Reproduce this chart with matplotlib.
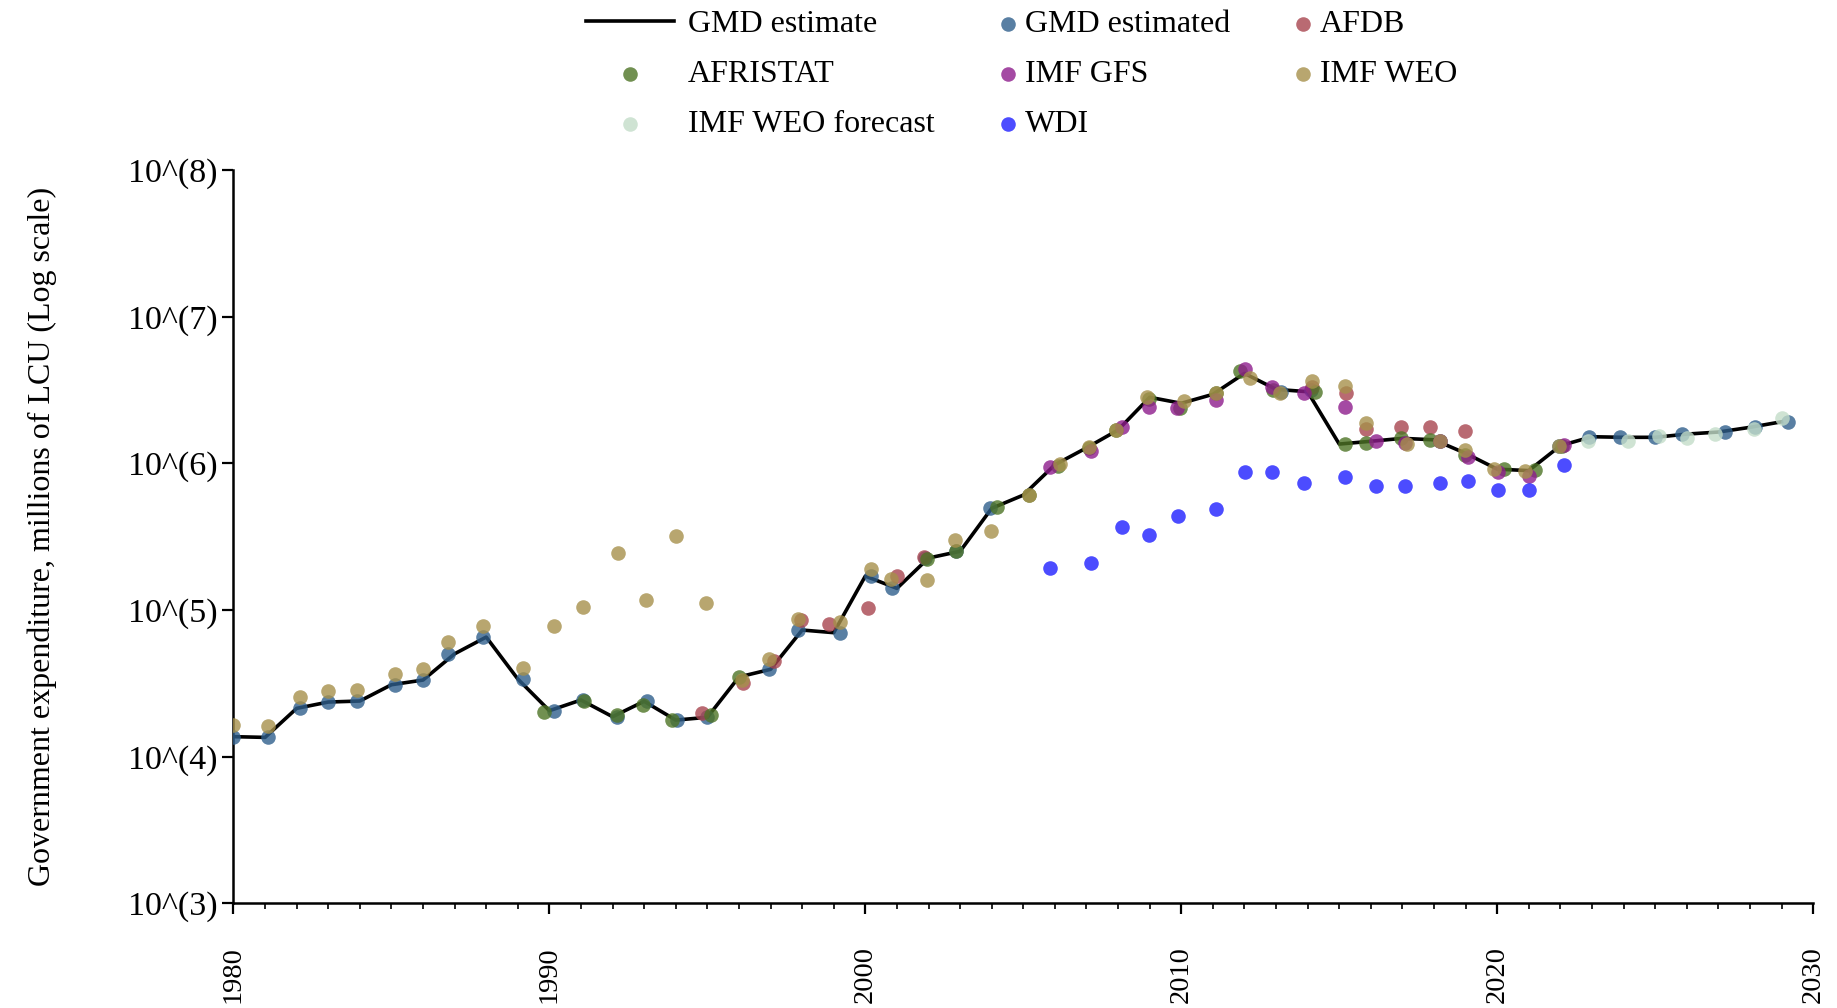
import numpy as np
import matplotlib
matplotlib.use("Agg")
import matplotlib.pyplot as plt
from matplotlib.ticker import FixedLocator, FixedFormatter

plt.rcParams['font.family'] = ['Liberation Serif', 'DejaVu Serif']

# ==========================================================
# DATA  (values are log10 of millions of LCU)
# ==========================================================

gmd_years = list(range(1980, 2030))
gmd_log = [
    4.136, 4.131, 4.329, 4.372, 4.379, 4.490, 4.522, 4.701, 4.815, 4.529,
    4.313, 4.386, 4.272, 4.377, 4.249, 4.268, 4.543, 4.595, 4.863, 4.845,
    5.231, 5.147, 5.354, 5.400, 5.693, 5.783, 5.990, 6.105, 6.227, 6.450,
    6.409, 6.470, 6.613, 6.504, 6.488, 6.131, 6.150, 6.170, 6.160, 6.068,
    5.960, 5.950, 6.120, 6.181, 6.177, 6.177, 6.199, 6.213, 6.245, 6.283,
]

gmd_est_x = [1980.0, 1981.1, 1982.1, 1983.0, 1983.9, 1985.1, 1986.0, 1986.8, 1987.9, 1989.15,
             1990.16, 1991.07, 1992.15, 1993.08, 1994.03, 1994.98, 1996.96, 1997.88, 1999.2,
             2000.19, 2000.83, 2001.89, 2002.87, 2003.95, 2013.16, 2014.1, 2018.2, 2021.97,
             2022.9, 2023.88, 2025.01, 2025.85, 2027.2, 2028.17, 2029.21]
gmd_est_log = [4.136, 4.131, 4.329, 4.372, 4.379, 4.490, 4.522, 4.701, 4.815, 4.529,
               4.313, 4.386, 4.272, 4.377, 4.249, 4.268, 4.595, 4.863, 4.845,
               5.231, 5.147, 5.354, 5.400, 5.693, 6.488, 6.500, 6.150, 6.118,
               6.181, 6.177, 6.177, 6.199, 6.213, 6.245, 6.283]

afdb_x = [1994.82, 1996.13, 1997.12, 1997.95, 1998.86, 2000.09, 2001.0, 2001.86,
          2014.13, 2015.2, 2015.85, 2016.96, 2017.86, 2018.99]
afdb_log = [4.299, 4.504, 4.654, 4.931, 4.904, 5.013, 5.231, 5.363,
            6.522, 6.481, 6.231, 6.245, 6.249, 6.222]

afristat_x = [1989.83, 1991.1, 1992.13, 1992.97, 1993.88, 1995.1, 1996.0, 2001.95, 2002.87,
              2004.16, 2005.18, 2006.1, 2007.09, 2007.93, 2008.99, 2009.96, 2011.1, 2011.86,
              2012.9, 2014.24, 2015.19, 2015.85, 2016.96, 2017.86, 2018.99, 2020.21, 2021.19,
              2022.05]
afristat_log = [4.304, 4.381, 4.284, 4.354, 4.249, 4.281, 4.543, 5.350, 5.400,
                5.704, 5.783, 5.983, 6.102, 6.227, 6.440, 6.374, 6.477, 6.626,
                6.499, 6.488, 6.131, 6.140, 6.170, 6.158, 6.056, 5.959, 5.954,
                6.120]

gfs_x = [2005.83, 2007.14, 2008.12, 2008.97, 2009.88, 2011.1, 2012.01, 2012.87, 2013.9,
         2015.19, 2016.17, 2017.09, 2018.19, 2019.09, 2020.04, 2021.0, 2022.1]
gfs_log = [5.977, 6.086, 6.249, 6.386, 6.379, 6.431, 6.640, 6.518, 6.481,
           6.386, 6.154, 6.140, 6.149, 6.045, 5.940, 5.913, 6.125]

weo_x = [1980.0, 1981.1, 1982.1, 1983.0, 1983.9, 1985.1, 1986.0, 1986.8, 1987.9, 1989.15,
         1990.16, 1991.05, 1992.18, 1993.07, 1994.02, 1994.96, 1996.09, 1996.95, 1997.88,
         1999.19, 2000.18, 2000.82, 2001.94, 2002.85, 2003.97, 2005.18, 2006.16, 2007.07,
         2007.93, 2008.91, 2010.09, 2011.1, 2012.16, 2013.14, 2014.13, 2015.19, 2015.85,
         2017.14, 2018.19, 2018.99, 2019.89, 2020.87, 2021.97]
weo_log = [4.213, 4.208, 4.406, 4.447, 4.454, 4.563, 4.599, 4.779, 4.890, 4.606,
           4.892, 5.020, 5.390, 5.068, 5.506, 5.047, 4.522, 4.668, 4.938,
           4.920, 5.280, 5.211, 5.206, 5.477, 5.536, 5.783, 5.993, 6.109,
           6.227, 6.454, 6.427, 6.477, 6.583, 6.481, 6.563, 6.527, 6.272,
           6.131, 6.149, 6.090, 5.959, 5.949, 6.118]

weo_fc_x = [2022.86, 2024.15, 2025.12, 2026.01, 2026.89, 2028.12, 2029.02]
weo_fc_log = [6.154, 6.152, 6.186, 6.170, 6.199, 6.231, 6.306]

wdi_x = [2005.83, 2007.14, 2008.11, 2008.98, 2009.89, 2011.1, 2012.01, 2012.86, 2013.9,
         2015.19, 2016.17, 2017.07, 2018.2, 2019.09, 2020.04, 2021.0, 2022.11]
wdi_log = [5.288, 5.320, 5.567, 5.511, 5.638, 5.686, 5.942, 5.938, 5.867,
           5.908, 5.847, 5.847, 5.867, 5.881, 5.820, 5.818, 5.988]

y_ticks = [1e3, 1e4, 1e5, 1e6, 1e7, 1e8]
y_tick_labels = ["10^(3)", "10^(4)", "10^(5)", "10^(6)", "10^(7)", "10^(8)"]
x_ticks = [1980, 1990, 2000, 2010, 2020, 2030]

# ==========================================================
# FIGURE
# ==========================================================

fig = plt.figure(figsize=(18.37, 10.08), dpi=100)
ax = fig.add_axes([0.1271, 0.1039, 0.8599, 0.7275])

line, = ax.plot(gmd_years, np.power(10.0, gmd_log),
                color='black', lw=2.6, zorder=2, label='GMD estimate')

series = [
    (gmd_est_x, gmd_est_log, '#2f5f8c', 'GMD estimated'),
    (afdb_x, afdb_log, '#a8454f', 'AFDB'),
    (afristat_x, afristat_log, '#4e7426', 'AFRISTAT'),
    (gfs_x, gfs_log, '#8e1d8c', 'IMF GFS'),
    (weo_x, weo_log, '#a6904b', 'IMF WEO'),
    (weo_fc_x, weo_fc_log, '#c3ddc9', 'IMF WEO forecast'),
    (wdi_x, wdi_log, '#1f1fff', 'WDI'),
]

handles = {}
for xs, ys, col, name in series:
    handles[name] = ax.scatter(xs, np.power(10.0, ys), s=110, color=col,
                               alpha=0.8, linewidths=0, zorder=3, label=name)

ax.set_yscale('log')
ax.set_ylim(1e3, 1e8)
ax.set_xlim(1980, 2030)

ax.yaxis.set_major_locator(FixedLocator(y_ticks))
ax.yaxis.set_major_formatter(FixedFormatter(y_tick_labels))
ax.yaxis.set_minor_locator(FixedLocator([]))

ax.set_xticks(x_ticks)
ax.set_xticklabels([str(t) for t in x_ticks], rotation=90)
ax.set_xticks(range(1980, 2031), minor=True)

ax.tick_params(axis='both', which='major', direction='out', length=8,
               width=1.6, labelsize=24.5, color='black')
ax.tick_params(axis='x', which='minor', direction='out', length=4, width=1.2)
ax.tick_params(axis='x', which='major', labelsize=20.5, pad=23)

for side in ['top', 'right']:
    ax.spines[side].set_visible(False)
for side in ['left', 'bottom']:
    ax.spines[side].set_linewidth(1.8)

ax.set_ylabel("Government expenditure, millions of LCU (Log scale)",
              fontsize=23, labelpad=51)

# ==========================================================
# LEGEND (three columns, placed above the axes)
# ==========================================================

leg_kw = dict(loc='upper left', frameon=False, fontsize=23, borderpad=0,
              borderaxespad=0, labelspacing=0.64, markerscale=1.0)

fig.legend([line, handles['AFRISTAT'], handles['IMF WEO forecast']],
           ['GMD estimate', 'AFRISTAT', 'IMF WEO forecast'],
           bbox_to_anchor=(0.319, 0.990), handlelength=2.75,
           handletextpad=0.45, **leg_kw)
fig.legend([handles['GMD estimated'], handles['IMF GFS'], handles['WDI']],
           ['GMD estimated', 'IMF GFS', 'WDI'],
           bbox_to_anchor=(0.5444, 0.990), handlelength=0.5,
           handletextpad=0.28, **leg_kw)
fig.legend([handles['AFDB'], handles['IMF WEO']],
           ['AFDB', 'IMF WEO'],
           bbox_to_anchor=(0.705, 0.990), handlelength=0.5,
           handletextpad=0.28, **leg_kw)

fig.savefig("out.png", dpi=100)
